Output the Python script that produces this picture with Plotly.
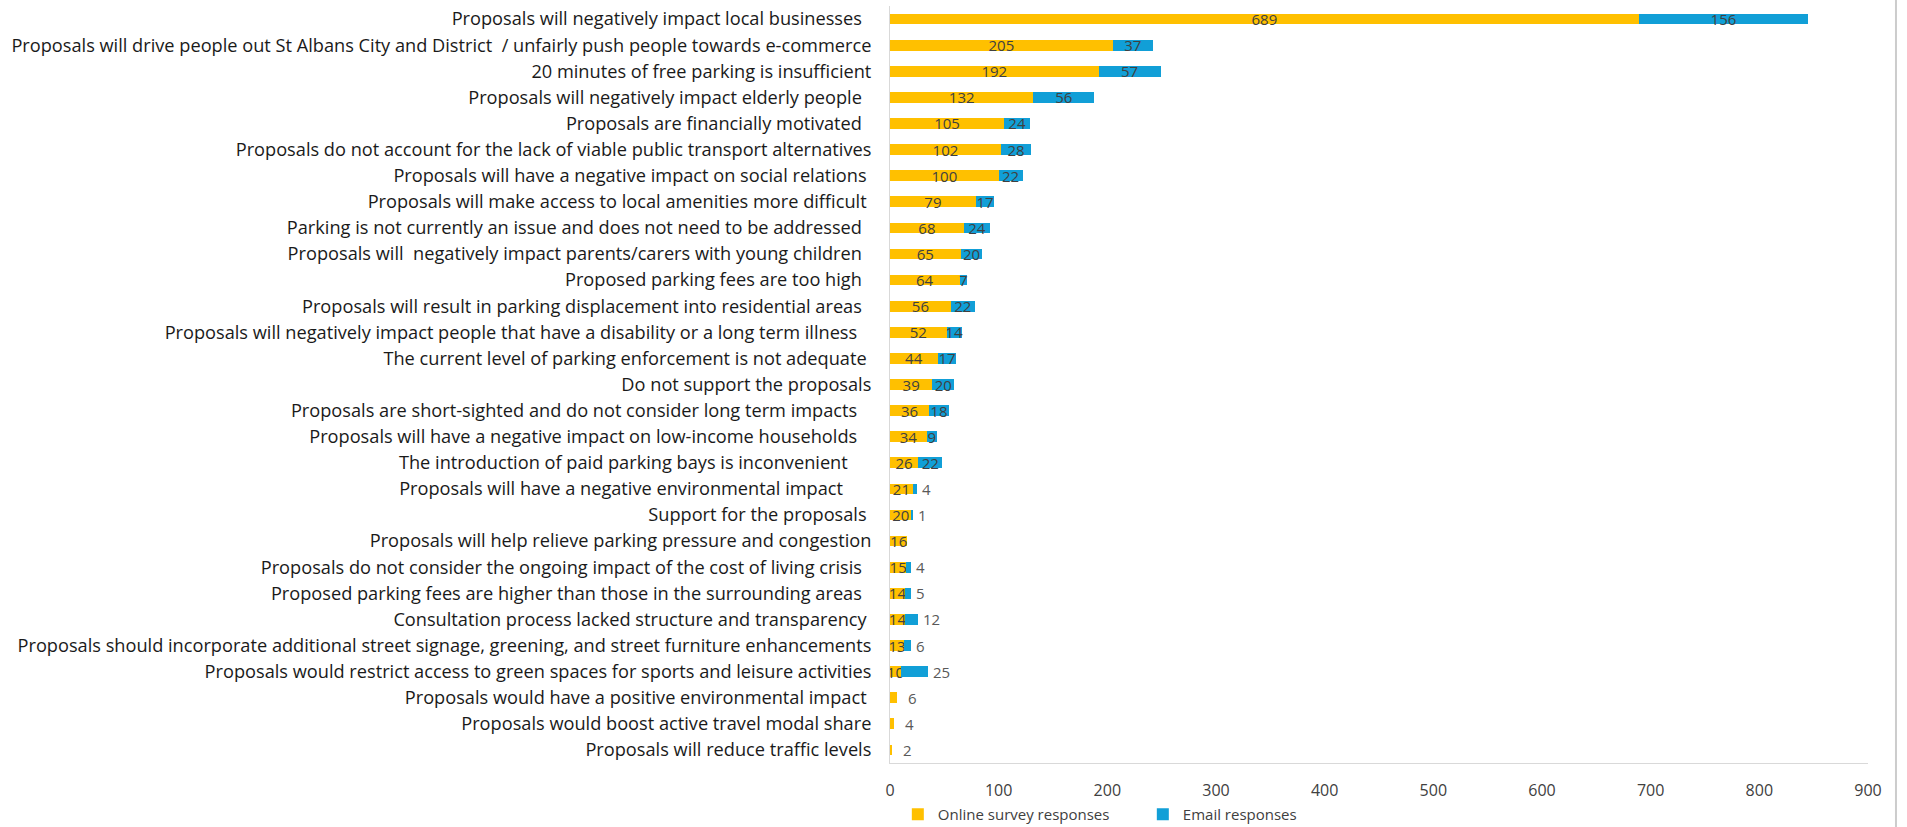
import plotly.graph_objects as go

# Response themes (trailing spaces kept as they appear in the source labels)
categories = [
    "Proposals will negatively impact local businesses  ",
    "Proposals will drive people out St Albans City and District  / unfairly push people towards e-commerce",
    "20 minutes of free parking is insufficient",
    "Proposals will negatively impact elderly people  ",
    "Proposals are financially motivated  ",
    "Proposals do not account for the lack of viable public transport alternatives",
    "Proposals will have a negative impact on social relations ",
    "Proposals will make access to local amenities more difficult ",
    "Parking is not currently an issue and does not need to be addressed  ",
    "Proposals will  negatively impact parents/carers with young children  ",
    "Proposed parking fees are too high  ",
    "Proposals will result in parking displacement into residential areas  ",
    "Proposals will negatively impact people that have a disability or a long term illness   ",
    "The current level of parking enforcement is not adequate ",
    "Do not support the proposals",
    "Proposals are short-sighted and do not consider long term impacts   ",
    "Proposals will have a negative impact on low-income households   ",
    "The introduction of paid parking bays is inconvenient     ",
    "Proposals will have a negative environmental impact      ",
    "Support for the proposals ",
    "Proposals will help relieve parking pressure and congestion",
    "Proposals do not consider the ongoing impact of the cost of living crisis  ",
    "Proposed parking fees are higher than those in the surrounding areas  ",
    "Consultation process lacked structure and transparency ",
    "Proposals should incorporate additional street signage, greening, and street furniture enhancements",
    "Proposals would restrict access to green spaces for sports and leisure activities",
    "Proposals would have a positive environmental impact ",
    "Proposals would boost active travel modal share",
    "Proposals will reduce traffic levels",
]

online = [689, 205, 192, 132, 105, 102, 100, 79, 68, 65, 64, 56, 52, 44, 39,
          36, 34, 26, 21, 20, 16, 15, 14, 14, 13, 10, 6, 4, 2]
email = [156, 37, 57, 56, 24, 28, 22, 17, 24, 20, 7, 22, 14, 17, 20,
         18, 9, 22, 4, 1, 0, 4, 5, 12, 6, 25, 0, 0, 0]

x_ticks = [0, 100, 200, 300, 400, 500, 600, 700, 800, 900]

# Rows whose value label sits just past the end of the bar
email_outside = {18, 19, 21, 22, 23, 24, 25}
online_outside = {26, 27, 28}

YELLOW = "#FFC000"
BLUE = "#119FD7"
FONT = "Open Sans"

tick_text = [c.rstrip() + "\u00a0" * (len(c) - len(c.rstrip())) for c in categories]

online_text = ["" if i in online_outside else str(v) for i, v in enumerate(online)]
email_text = ["" if (v == 0 or i in email_outside) else str(v) for i, v in enumerate(email)]

fig = go.Figure()
fig.add_trace(go.Bar(
    y=categories, x=online, orientation="h", name="Online survey responses",
    marker=dict(color=YELLOW, line=dict(width=0)),
    text=online_text, textposition="inside", insidetextanchor="middle",
    constraintext="none", textangle=0,
    insidetextfont=dict(family=FONT, size=15, color="#404040"),
    hoverinfo="x+y",
))
fig.add_trace(go.Bar(
    y=categories, x=email, orientation="h", name="Email responses",
    marker=dict(color=BLUE, line=dict(width=0)),
    text=email_text, textposition="inside", insidetextanchor="middle",
    constraintext="none", textangle=0,
    insidetextfont=dict(family=FONT, size=15, color="#404040"),
    hoverinfo="x+y",
))

annotations = []
for i in sorted(email_outside):
    annotations.append(dict(
        x=online[i] + email[i], y=categories[i], xref="x", yref="y",
        text=str(email[i]), showarrow=False, xanchor="left", xshift=3,
        font=dict(family=FONT, size=15, color="#595959"),
    ))
for i in sorted(online_outside):
    annotations.append(dict(
        x=online[i] + email[i], y=categories[i], xref="x", yref="y",
        text=str(online[i]), showarrow=False, xanchor="left", xshift=9,
        font=dict(family=FONT, size=15, color="#595959"),
    ))

fig.update_layout(
    width=1907, height=827,
    margin=dict(l=890, r=39, t=6, b=64, pad=0, autoexpand=False),
    barmode="stack", bargap=0.59,
    plot_bgcolor="white", paper_bgcolor="white",
    font=dict(family=FONT, color="#262626"),
    showlegend=True,
    legend=dict(
        orientation="h", x=0.008, xanchor="left", y=-0.068, yanchor="middle",
        font=dict(family=FONT, size=15, color="#404040"),
        entrywidth=200, entrywidthmode="pixels", itemwidth=30,
        traceorder="normal",
    ),
    annotations=annotations,
    shapes=[dict(
        type="line", xref="paper", yref="paper",
        x0=1.0286, x1=1.0286, y0=-0.09, y1=1.01,
        line=dict(color="#cccccc", width=2),
    )],
)

fig.update_xaxes(
    range=[0, 900], tickvals=x_ticks, ticktext=[str(t) for t in x_ticks],
    showgrid=False, zeroline=False, showline=True, linecolor="#d9d9d9",
    linewidth=1, ticks="", ticklabelstandoff=13,
    tickfont=dict(family=FONT, size=16, color="#404040"),
)
fig.update_yaxes(
    autorange="reversed", tickvals=categories, ticktext=tick_text,
    showgrid=False, zeroline=False, showline=True, linecolor="#d9d9d9",
    linewidth=1, ticks="", ticklabelstandoff=14,
    tickfont=dict(family=FONT, size=18.2, color="#1a1a1a"),
)

fig.write_html("out.html")
